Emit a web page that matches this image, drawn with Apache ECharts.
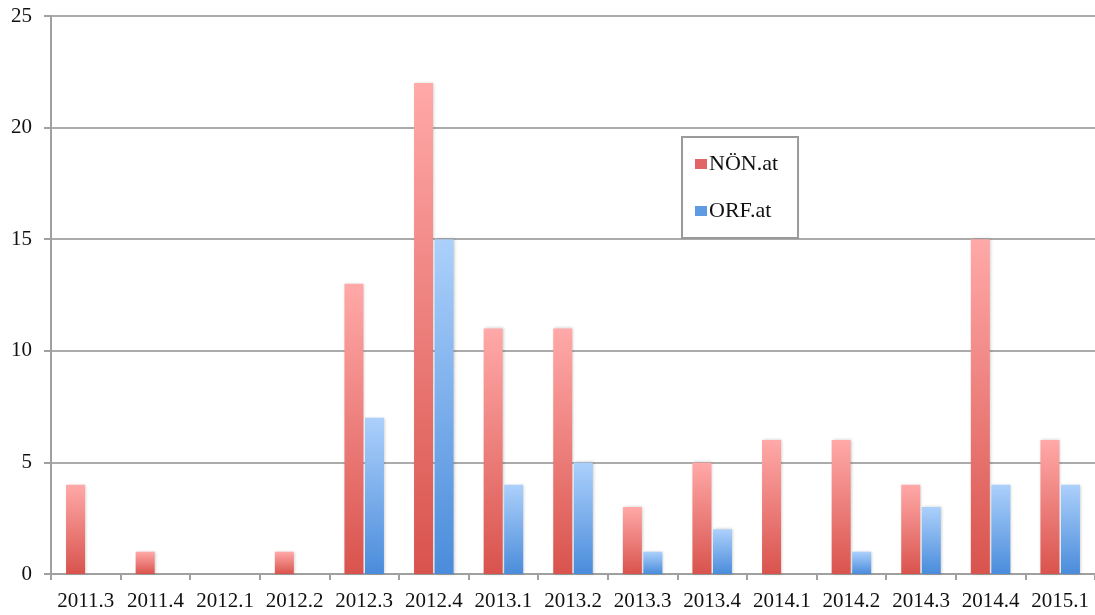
<!DOCTYPE html>
<html>
<head>
<meta charset="utf-8">
<script src="https://cdn.jsdelivr.net/npm/echarts@6/dist/echarts.min.js"></script>
<style>
  html, body { margin: 0; padding: 0; background: #fff; }
  #chart { width: 1095px; height: 615px; }
</style>
</head>
<body>
<div id="chart"></div>
<script>
// Quarterly counts per news site
const quarters = ['2011.3', '2011.4', '2012.1', '2012.2', '2012.3', '2012.4', '2013.1', '2013.2',
  '2013.3', '2013.4', '2014.1', '2014.2', '2014.3', '2014.4', '2015.1'];
const noenValues = [4, 1, 0, 1, 13, 22, 11, 11, 3, 5, 6, 6, 4, 15, 6];
const orfValues = [0, 0, 0, 0, 7, 15, 4, 5, 1, 2, 0, 1, 3, 4, 4];
const seriesNames = ['NÖN.at', 'ORF.at'];

const FONT = '"Liberation Serif", "DejaVu Serif", serif';

function gradient(top, bottom) {
  return new echarts.graphic.LinearGradient(0, 0, 0, 1, [
    { offset: 0, color: top },
    { offset: 1, color: bottom }
  ]);
}

const chart = echarts.init(document.getElementById('chart'), null, { renderer: 'canvas' });

chart.setOption({
  animation: false,
  backgroundColor: '#ffffff',
  grid: { left: 51, right: 0, top: 16, bottom: 41 },
  legend: {
    orient: 'vertical',
    left: 682,
    top: 137,
    padding: [16, 20, 16, 13],
    borderColor: '#9a9a9a',
    borderWidth: 2,
    borderRadius: 0,
    itemWidth: 12,
    itemHeight: 10,
    itemGap: 25,
    icon: 'rect',
    textStyle: { fontFamily: FONT, fontSize: 22, color: '#111', padding: [0, 0, 0, -3] },
    data: [
      { name: seriesNames[0], itemStyle: { color: '#e36464' } },
      { name: seriesNames[1], itemStyle: { color: '#5f9be3' } }
    ]
  },
  xAxis: {
    type: 'category',
    data: quarters,
    axisLine: { lineStyle: { color: '#a0a0a0', width: 2 } },
    axisTick: { show: true, length: 6, lineStyle: { color: '#a0a0a0', width: 2 } },
    axisLabel: { interval: 0, hideOverlap: false, fontFamily: FONT, fontSize: 21, color: '#111', margin: 17 }
  },
  yAxis: {
    type: 'value',
    min: 0,
    max: 25,
    interval: 5,
    axisLine: { show: true, lineStyle: { color: '#a0a0a0', width: 2 } },
    axisTick: { show: true, length: 7, lineStyle: { color: '#a0a0a0', width: 2 } },
    splitLine: { lineStyle: { color: '#ababab', width: 2 } },
    axisLabel: { fontFamily: FONT, fontSize: 21, color: '#111', margin: 19 }
  },
  series: [
    {
      name: seriesNames[0],
      type: 'bar',
      data: noenValues,
      barWidth: 19,
      barGap: '8%',
      itemStyle: {
        color: gradient('#ffa9a8', '#d9534d'),
        shadowColor: 'rgba(0,0,0,0.22)',
        shadowBlur: 3,
        shadowOffsetX: 1
      }
    },
    {
      name: seriesNames[1],
      type: 'bar',
      data: orfValues,
      barWidth: 19,
      itemStyle: {
        color: gradient('#acd0fb', '#4a8cdb'),
        shadowColor: 'rgba(0,0,0,0.22)',
        shadowBlur: 3,
        shadowOffsetX: 1
      }
    }
  ]
});
</script>
</body>
</html>
